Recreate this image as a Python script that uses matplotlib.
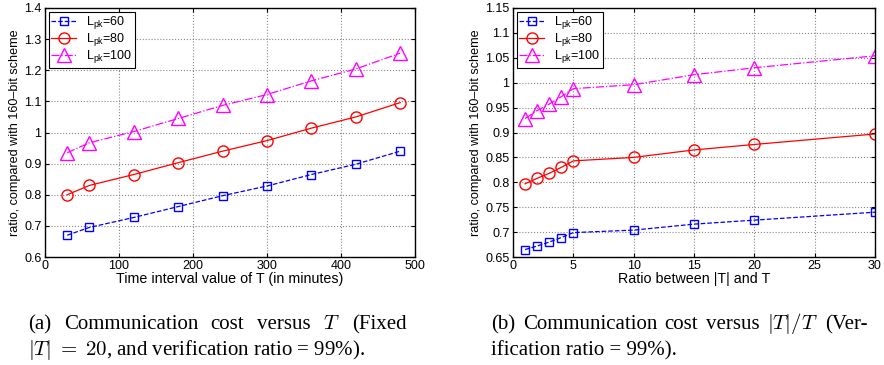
import numpy as np
import matplotlib.pyplot as plt

plt.rcParams['font.family'] = ['Liberation Sans', 'DejaVu Sans']
plt.rcParams['mathtext.fontset'] = 'custom'
plt.rcParams['mathtext.rm'] = 'Liberation Sans'

# (a) communication cost versus T
t_vals = [30, 60, 120, 180, 240, 300, 360, 420, 480]
a_l60 = [0.670, 0.695, 0.727, 0.762, 0.797, 0.828, 0.865, 0.898, 0.940]
a_l80 = [0.800, 0.830, 0.865, 0.903, 0.940, 0.974, 1.014, 1.050, 1.096]
a_l100 = [0.935, 0.967, 1.003, 1.045, 1.087, 1.122, 1.166, 1.204, 1.255]

# (b) communication cost versus |T|/T
r_vals = [1, 2, 3, 4, 5, 10, 15, 20, 30]
b_l60 = [0.665, 0.672, 0.680, 0.689, 0.699, 0.704, 0.716, 0.724, 0.740]
b_l80 = [0.797, 0.808, 0.818, 0.830, 0.843, 0.850, 0.865, 0.876, 0.897]
b_l100 = [0.928, 0.944, 0.957, 0.972, 0.988, 0.996, 1.016, 1.030, 1.054]

labels = [r'L$_{\rm pk}$=60', r'L$_{\rm pk}$=80', r'L$_{\rm pk}$=100']

fig = plt.figure(figsize=(8.84, 3.65), dpi=100)
W, H = 884, 365
ax1 = fig.add_axes([45 / W, 1 - 257 / H, (415 - 45) / W, (257 - 8) / H])
ax2 = fig.add_axes([513 / W, 1 - 257 / H, (875 - 513) / W, (257 - 8) / H])

def draw(ax, x, s60, s80, s100):
    ax.plot(x, s60, color='#0000ff', ls='--', lw=0.9, marker='s', ms=6,
            mfc='none', mew=1.0, label=labels[0])
    ax.plot(x, s80, color='#ff0000', ls='-', lw=0.9, marker='o', ms=8,
            mfc='none', mew=1.0, label=labels[1])
    ax.plot(x, s100, color='#ff00ff', ls='-.', lw=0.9, marker='^', ms=9.5,
            mfc='none', mew=1.0, label=labels[2])
    ax.grid(True, ls=':', color='#888888', lw=0.8)
    ax.tick_params(direction='in', labelsize=9, length=3, pad=2.5, top=True, right=True)
    ax.set_ylabel('ratio, compared with 160\u2013bit scheme', fontsize=9.1, labelpad=2)
    leg = ax.legend(loc='upper left', fontsize=9, fancybox=False, edgecolor='black',
                    framealpha=1, handlelength=2.0, borderpad=0.2, labelspacing=0.0,
                    borderaxespad=0.3, handletextpad=0.8)
    leg.get_frame().set_linewidth(0.8)
    for sp in ax.spines.values():
        sp.set_linewidth(1.0)

draw(ax1, t_vals, a_l60, a_l80, a_l100)
ax1.set_xlim(0, 500)
ax1.set_ylim(0.6, 1.4)
ax1.set_xticks(np.arange(0, 501, 100))
ax1.set_yticks(np.arange(0.6, 1.41, 0.1))
ax1.set_yticklabels(['0.6', '0.7', '0.8', '0.9', '1', '1.1', '1.2', '1.3', '1.4'])
ax1.set_xlabel('Time interval value of T (in minutes)', fontsize=10.3, labelpad=0)

draw(ax2, r_vals, b_l60, b_l80, b_l100)
ax2.set_xlim(0, 30)
ax2.set_ylim(0.65, 1.15)
ax2.set_xticks(np.arange(0, 31, 5))
ax2.set_yticks(np.arange(0.65, 1.151, 0.05))
ax2.set_yticklabels(['0.65', '0.7', '0.75', '0.8', '0.85', '0.9', '0.95', '1',
                     '1.05', '1.1', '1.15'])
ax2.set_xlabel('Ratio between |T| and T', fontsize=10.3, labelpad=0)

cap = dict(fontsize=15, family='Liberation Serif', va='baseline', ha='left',
           math_fontfamily='cm')
renderer = fig.canvas.get_renderer()

def justify(words, x0, x1, y):
    texts = [fig.text(0, 1 - y / H, w, **cap) for w in words]
    widths = [t.get_window_extent(renderer).width for t in texts]
    gap = (x1 - x0 - sum(widths)) / (len(words) - 1)
    x = x0
    for t, w in zip(texts, widths):
        t.set_x(x / W)
        x += w + gap

justify(['(a)', 'Communication', 'cost', 'versus', '$T$', '(Fixed'], 28, 407, 329)
fig.text(28 / W, 1 - 355 / H, r'$|T|\;=\;20$, and verification ratio = 99%).', **cap)
justify(['(b)', 'Communication', 'cost', 'versus', '$|T|/T$', '(Ver-'], 491, 868, 329)
fig.text(491 / W, 1 - 355 / H, 'ification ratio = 99%).', **cap)

fig.savefig('out.png', dpi=100)
